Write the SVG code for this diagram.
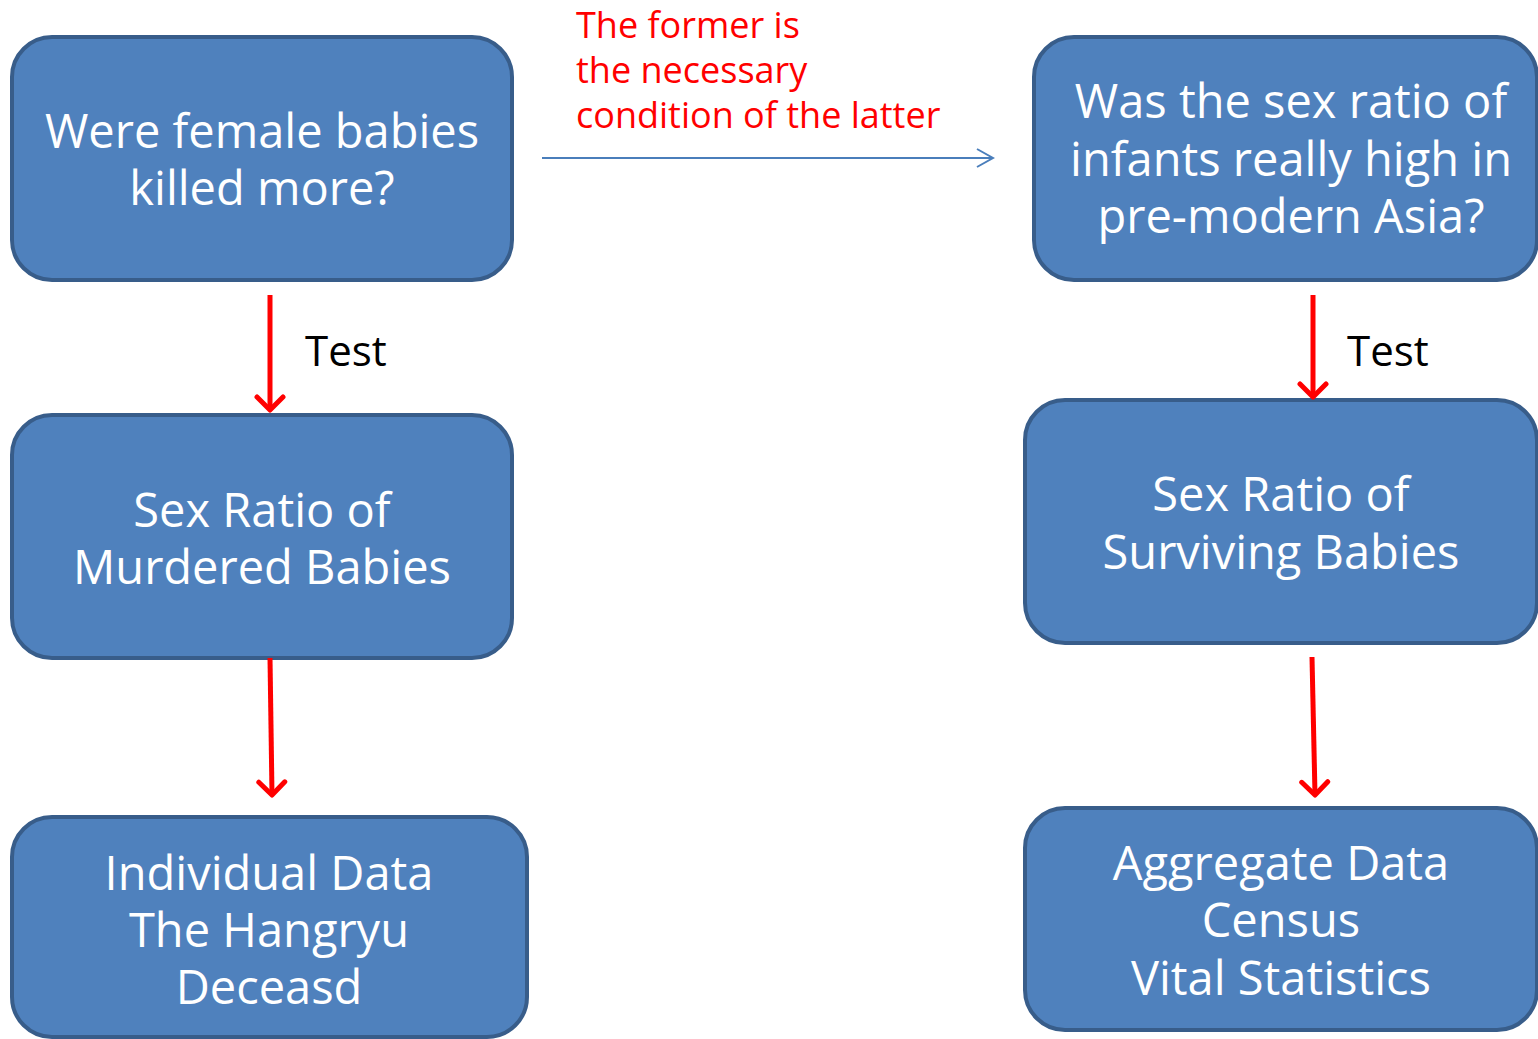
<svg xmlns="http://www.w3.org/2000/svg" width="1538" height="1039" viewBox="0 0 1538 1039">
<style>
.box{fill:#4f81bd;stroke:#385d8a;stroke-width:4}
.bt{font-family:"Open Sans","Noto Sans",sans-serif;font-size:47px;fill:#ffffff;text-anchor:middle}
.red{stroke:#ff0000;stroke-width:5;fill:none}
.note{font-family:"Open Sans","Noto Sans",sans-serif;font-size:36px;fill:#ff0000}
.test{font-family:"Open Sans","Noto Sans",sans-serif;font-size:42px;fill:#000000}
</style>
<defs>
<marker id="rh" viewBox="0 0 20 32" refX="16" refY="16" markerWidth="20" markerHeight="32" markerUnits="userSpaceOnUse" orient="auto">
<path d="M3,3 L16,16 L3,29" fill="none" stroke="#ff0000" stroke-width="5" stroke-linecap="round" stroke-linejoin="round"/>
</marker>
<marker id="bh" viewBox="0 0 20 20" refX="18" refY="10" markerWidth="20" markerHeight="20" markerUnits="userSpaceOnUse" orient="auto">
<path d="M2,1 L18,10 L2,19" fill="none" stroke="#4a7ebb" stroke-width="2"/>
</marker>
</defs>
<g id="n1"><rect class="box" x="12" y="37" width="500" height="243" rx="40"/>
<text class="bt" x="262" y="148">Were female babies</text><text class="bt" x="262" y="205">killed more?</text></g>
<g id="n2"><rect class="box" x="12" y="415" width="500" height="243" rx="40"/>
<text class="bt" x="262" y="527">Sex Ratio of</text><text class="bt" x="262" y="584">Murdered Babies</text></g>
<g id="n3"><rect class="box" x="12" y="817" width="515" height="220" rx="40"/>
<text class="bt" x="269" y="890">Individual Data</text><text class="bt" x="269" y="947">The Hangryu</text><text class="bt" x="269" y="1004">Deceasd</text></g>
<g id="n4"><rect class="box" x="1034" y="37" width="503" height="243" rx="40"/>
<text class="bt" x="1291" y="118">Was the sex ratio of</text><text class="bt" x="1291" y="176">infants really high in</text><text class="bt" x="1291" y="233">pre-modern Asia?</text></g>
<g id="n5"><rect class="box" x="1025" y="400" width="512" height="243" rx="40"/>
<text class="bt" x="1281" y="511">Sex Ratio of</text><text class="bt" x="1281" y="569">Surviving Babies</text></g>
<g id="n6"><rect class="box" x="1025" y="808" width="512" height="222" rx="40"/>
<text class="bt" x="1281" y="880">Aggregate Data</text><text class="bt" x="1281" y="937">Census</text><text class="bt" x="1281" y="995">Vital Statistics</text></g>
<g id="connectors">
<line class="red" x1="270" y1="295" x2="270" y2="410" marker-end="url(#rh)"/>
<line class="red" x1="270" y1="658" x2="272" y2="795" marker-end="url(#rh)"/>
<line class="red" x1="1313" y1="295" x2="1313" y2="397" marker-end="url(#rh)"/>
<line class="red" x1="1312" y1="657" x2="1315" y2="795" marker-end="url(#rh)"/>
<line x1="542" y1="158" x2="993" y2="158" stroke="#4a7ebb" stroke-width="2" marker-end="url(#bh)"/>
</g>
<g id="labels">
<text class="note" x="576" y="38">The former is</text>
<text class="note" x="576" y="83">the necessary</text>
<text class="note" x="576" y="128">condition of the latter</text>
<text class="test" x="305" y="366">Test</text>
<text class="test" x="1347" y="366">Test</text>
</g>
</svg>
